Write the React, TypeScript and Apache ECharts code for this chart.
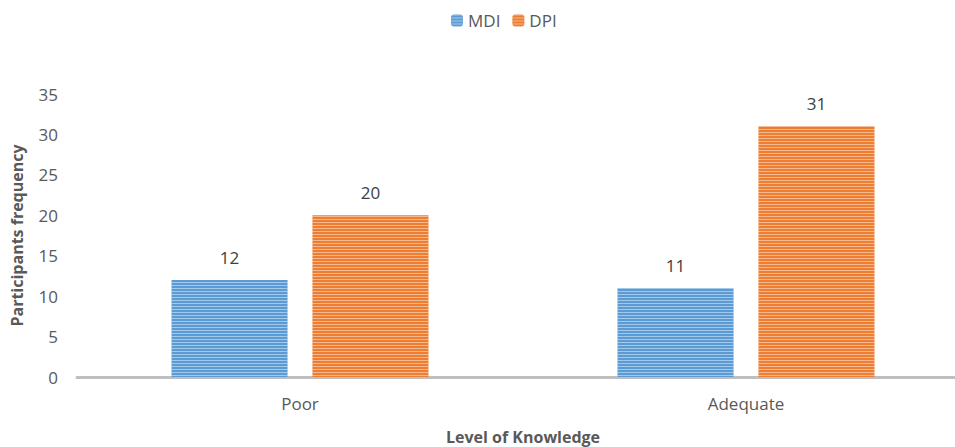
import React, { useEffect, useRef } from "react";
import * as echarts from "echarts";

const categories = ["Poor", "Adequate"];
const mdiValues = [12, 11];
const dpiValues = [20, 31];
const seriesNames = ["MDI", "DPI"];

const FONT = "'Open Sans', 'Liberation Sans', sans-serif";

export default function App() {
  const ref = useRef<HTMLDivElement>(null);
  useEffect(() => {
    if (!ref.current) return;
    const chart = echarts.init(ref.current, null, { renderer: "svg" });
    const decal = {
      symbol: "rect",
      symbolSize: 1,
      dashArrayX: [1, 0],
      dashArrayY: [1, 2],
      rotation: 0,
      color: "rgba(255,255,255,0.45)",
    };
    chart.setOption({
      animation: false,
      textStyle: { fontFamily: FONT },
      legend: {
        top: 7,
        left: 446,
        itemWidth: 12,
        itemHeight: 12,
        itemGap: 12,
        itemStyle: { decal },
        textStyle: { fontSize: 17, color: "#595959", fontFamily: FONT },
        data: seriesNames,
      },
      grid: {
        left: 77,
        width: 892,
        top: 94,
        height: 283,
        containLabel: false,
        outerBoundsMode: "none",
      },
      xAxis: {
        type: "category",
        data: categories,
        name: "Level of Knowledge",
        nameLocation: "middle",
        nameGap: 52,
        nameTextStyle: { fontSize: 16, fontWeight: "bold", color: "#595959", fontFamily: FONT },
        axisLine: { show: true, lineStyle: { color: "#BFBFBF", width: 3 } },
        axisTick: { show: false },
        axisLabel: { fontSize: 17, color: "#595959", margin: 18 },
      },
      yAxis: {
        type: "value",
        min: 0,
        max: 35,
        interval: 5,
        name: "Participants frequency",
        nameLocation: "middle",
        nameGap: 52,
        nameTextStyle: { fontSize: 16, fontWeight: "bold", color: "#595959", fontFamily: FONT },
        axisLine: { show: false },
        axisTick: { show: false },
        splitLine: { show: false },
        axisLabel: { fontSize: 17, color: "#595959", margin: 19 },
      },
      series: [
        {
          name: seriesNames[0],
          type: "bar",
          data: mdiValues,
          barWidth: 116,
          barGap: "21.5%",
          itemStyle: { color: "#5B9BD5", decal },
          label: { show: true, position: "top", distance: 14, fontSize: 17, color: "#404040" },
        },
        {
          name: seriesNames[1],
          type: "bar",
          data: dpiValues,
          barWidth: 116,
          itemStyle: { color: "#ED7D31", decal },
          label: { show: true, position: "top", distance: 14, fontSize: 17, color: "#404040" },
        },
      ],
    });
    return () => chart.dispose();
  }, []);
  return (
    <div
      style={{
        position: "absolute",
        left: 0,
        top: 0,
        width: 955,
        height: 447,
        overflow: "hidden",
      }}
    >
      <div ref={ref} style={{ width: 990, height: 447 }} />
    </div>
  );
}
